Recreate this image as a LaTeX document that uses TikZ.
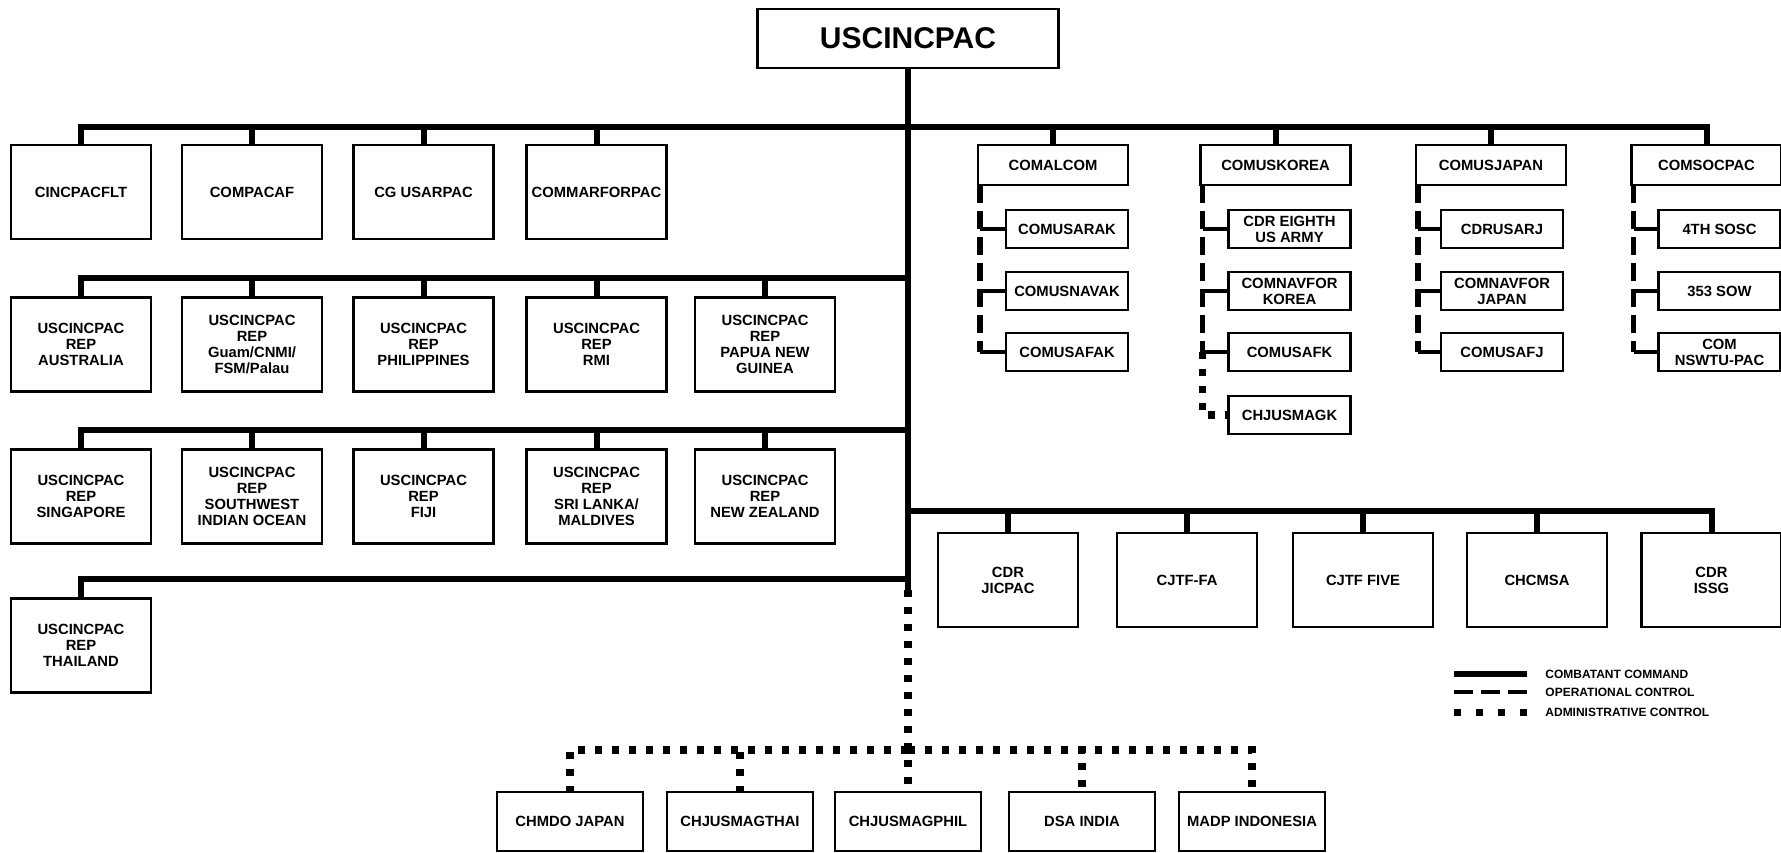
\documentclass[tikz,border=0pt]{standalone}
\usepackage{fontspec}
\setmainfont{Liberation Sans}
\begin{document}
\begin{tikzpicture}[x=0.5pt,y=-0.5pt,
		every node/.style={draw,line width=1.1pt,inner sep=1pt,outer sep=0pt,align=center,font=\bfseries\fontsize{7.4}{8}\selectfont},
		unitbox/.style={minimum width=70pt,minimum height=47pt},
		headbox/.style={minimum width=75pt,minimum height=20pt},
		subbox/.style={minimum width=61pt,minimum height=19pt},
		lowbox/.style={minimum width=73pt,minimum height=29.5pt},
		cc/.style={line width=3pt},
		branch/.style={line width=2.4pt},
		opcon/.style={line width=2.8pt,dash pattern=on 9pt off 4pt},
		adcon/.style={line width=3.6pt,dash pattern=on 3.6pt off 4.9pt}]
	\useasboundingbox (0,0) rectangle (1781,852);
	\node[minimum width=150.5pt,minimum height=29.5pt,font=\bfseries\fontsize{15}{18}\selectfont](Root) at (908,38.5){USCINCPAC};

	\node[unitbox](Flt) at (81,192){CINCPACFLT};
	\node[unitbox](PacAf) at (252,192){COMPACAF};
	\node[unitbox](UsArPac) at (423.5,192){CG USARPAC};
	\node[unitbox](MarForPac) at (596.5,192){COMMARFORPAC};

	\node[unitbox](RepAus) at (81,344.5){USCINCPAC\\REP\\AUSTRALIA};
	\node[unitbox](RepGuam) at (252,344.5){USCINCPAC\\REP\\Guam/CNMI/\\FSM/Palau};
	\node[unitbox](RepPhil) at (423.5,344.5){USCINCPAC\\REP\\PHILIPPINES};
	\node[unitbox](RepRmi) at (596.5,344.5){USCINCPAC\\REP\\RMI};
	\node[unitbox](RepPng) at (765,344.5){USCINCPAC\\REP\\PAPUA NEW\\GUINEA};

	\node[unitbox](RepSing) at (81,496.5){USCINCPAC\\REP\\SINGAPORE};
	\node[unitbox](RepSwio) at (252,496.5){USCINCPAC\\REP\\SOUTHWEST\\INDIAN OCEAN};
	\node[unitbox](RepFiji) at (423.5,496.5){USCINCPAC\\REP\\FIJI};
	\node[unitbox](RepSri) at (596.5,496.5){USCINCPAC\\REP\\SRI LANKA/\\MALDIVES};
	\node[unitbox](RepNz) at (765,496.5){USCINCPAC\\REP\\NEW ZEALAND};

	\node[unitbox](RepThai) at (81,645.5){USCINCPAC\\REP\\THAILAND};

	\node[headbox](AlCom) at (1053,165){COMALCOM};
	\node[subbox](UsArAk) at (1067,229){COMUSARAK};
	\node[subbox](UsNavAk) at (1067,291){COMUSNAVAK};
	\node[subbox](UsAfAk) at (1067,352){COMUSAFAK};

	\node[headbox](UsKorea) at (1275.5,165){COMUSKOREA};
	\node[subbox](EighthArmy) at (1289.5,229){CDR EIGHTH\\US ARMY};
	\node[subbox](NavForK) at (1289.5,291){COMNAVFOR\\KOREA};
	\node[subbox](UsAfK) at (1289.5,352){COMUSAFK};
	\node[subbox](JusmagK) at (1289.5,415){CHJUSMAGK};

	\node[headbox](UsJapan) at (1491,165){COMUSJAPAN};
	\node[subbox](UsArJ) at (1502,229){CDRUSARJ};
	\node[subbox](NavForJ) at (1502,291){COMNAVFOR\\JAPAN};
	\node[subbox](UsAfJ) at (1502,352){COMUSAFJ};

	\node[headbox](SocPac) at (1706.5,165){COMSOCPAC};
	\node[subbox](Sosc) at (1719.5,229){4TH SOSC};
	\node[subbox](Sow) at (1719.5,291){353 SOW};
	\node[subbox](Nswtu) at (1719.5,352){COM\\NSWTU-PAC};

	\node[unitbox](JicPac) at (1008,580){CDR\\JICPAC};
	\node[unitbox](JtfFa) at (1187,580){CJTF-FA};
	\node[unitbox](JtfFive) at (1363,580){CJTF FIVE};
	\node[unitbox](Cmsa) at (1537,580){CHCMSA};
	\node[unitbox](Issg) at (1711.5,580){CDR\\ISSG};

	\node[lowbox](MdoJapan) at (570,821.5){CHMDO JAPAN};
	\node[lowbox](JusmagThai) at (740,821.5){CHJUSMAGTHAI};
	\node[lowbox](JusmagPhil) at (908,821.5){CHJUSMAGPHIL};
	\node[lowbox](DsaIndia) at (1082,821.5){DSA INDIA};
	\node[lowbox](MadpIndo) at (1252,821.5){MADP INDONESIA};

	\coordinate(BarA) at (908,127);
	\coordinate(BarB) at (908,278);
	\coordinate(BarC) at (908,430);
	\coordinate(BarD) at (908,579);
	\coordinate(BarE) at (908,511);
	\coordinate(BarF) at (908,750);
	\coordinate(TrunkEnd) at (908,590);
	\coordinate(AlComLine) at ([xshift=1pt]AlCom.south west);
	\coordinate(KoreaLine) at ([xshift=1pt]UsKorea.south west);
	\coordinate(JapanLine) at ([xshift=1pt]UsJapan.south west);
	\coordinate(SocLine) at ([xshift=1pt]SocPac.south west);

	\draw[cc] (Root.south) -- (TrunkEnd);
	\draw[cc] (BarA) -| (Flt.north) (BarA) -| (PacAf.north) (BarA) -| (UsArPac.north) (BarA) -| (MarForPac.north)
		(BarA) -| (AlCom.north) (BarA) -| (UsKorea.north) (BarA) -| (UsJapan.north) (BarA) -| (SocPac.north);
	\draw[cc] (BarB) -| (RepAus.north) (BarB) -| (RepGuam.north) (BarB) -| (RepPhil.north) (BarB) -| (RepRmi.north) (BarB) -| (RepPng.north);
	\draw[cc] (BarC) -| (RepSing.north) (BarC) -| (RepSwio.north) (BarC) -| (RepFiji.north) (BarC) -| (RepSri.north) (BarC) -| (RepNz.north);
	\draw[cc] (BarD) -| (RepThai.north);
	\draw[cc] (BarE) -| (JicPac.north) (BarE) -| (JtfFa.north) (BarE) -| (JtfFive.north) (BarE) -| (Cmsa.north) (BarE) -| (Issg.north);

	\draw[opcon] (AlComLine) -- (AlComLine |- UsAfAk.west);
	\draw[branch] (AlComLine |- UsArAk.west) -- (UsArAk.west) (AlComLine |- UsNavAk.west) -- (UsNavAk.west) (AlComLine |- UsAfAk.west) -- (UsAfAk.west);
	\draw[opcon] (KoreaLine) -- (KoreaLine |- UsAfK.west);
	\draw[branch] (KoreaLine |- EighthArmy.west) -- (EighthArmy.west) (KoreaLine |- NavForK.west) -- (NavForK.west) (KoreaLine |- UsAfK.west) -- (UsAfK.west);
	\draw[adcon] (KoreaLine |- UsAfK.west) |- (JusmagK.west);
	\draw[opcon] (JapanLine) -- (JapanLine |- UsAfJ.west);
	\draw[branch] (JapanLine |- UsArJ.west) -- (UsArJ.west) (JapanLine |- NavForJ.west) -- (NavForJ.west) (JapanLine |- UsAfJ.west) -- (UsAfJ.west);
	\draw[opcon] (SocLine) -- (SocLine |- Nswtu.west);
	\draw[branch] (SocLine |- Sosc.west) -- (Sosc.west) (SocLine |- Sow.west) -- (Sow.west) (SocLine |- Nswtu.west) -- (Nswtu.west);

	\draw[adcon] (TrunkEnd) -- (JusmagPhil.north);
	\draw[adcon] (BarF) -| (MdoJapan.north) (BarF) -| (JusmagThai.north) (BarF) -| (DsaIndia.north) (BarF) -| (MadpIndo.north);

	\begin{scope}[every node/.style={right,inner sep=0pt,font=\bfseries\fontsize{6}{7}\selectfont}]
		\node(LegCc) at (1545,674){COMBATANT COMMAND};
		\node(LegOp) at (1545,692){OPERATIONAL CONTROL};
		\node(LegAd) at (1545,712){ADMINISTRATIVE CONTROL};
	\end{scope}
	\draw[line width=3pt] ([xshift=-9pt]LegCc.west) -- ++(-36.5pt,0);
	\draw[line width=2pt,dash pattern=on 9.5pt off 4pt] ([xshift=-9pt]LegOp.west) -- ++(-36.5pt,0);
	\draw[line width=3.5pt,dash pattern=on 3.5pt off 7.5pt] ([xshift=-9pt]LegAd.west) -- ++(-36.5pt,0);
\end{tikzpicture}
\end{document}
